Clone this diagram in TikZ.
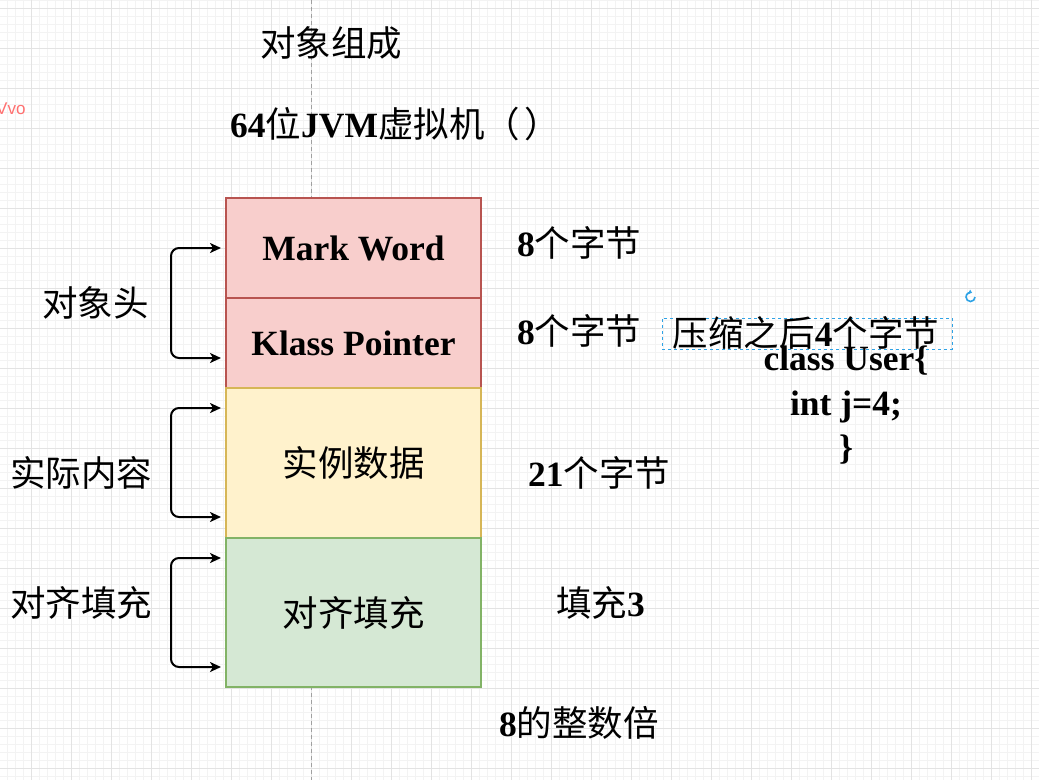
\documentclass[tikz,border=0pt]{standalone}
\usepackage{fontspec}
\setmainfont{Liberation Serif}
\newfontfamily\cjk{Noto Sans CJK SC}
\newfontfamily\uisans{Liberation Sans}
\usetikzlibrary{arrows.meta}
\definecolor{redfill}{HTML}{F8CECC}
\definecolor{redline}{HTML}{B85450}
\definecolor{yelfill}{HTML}{FFF2CC}
\definecolor{yelline}{HTML}{D6B656}
\definecolor{grnfill}{HTML}{D5E8D4}
\definecolor{grnline}{HTML}{82B366}
\definecolor{minorg}{HTML}{F3F3F3}
\definecolor{majorg}{HTML}{E3E3E3}
\definecolor{guide}{HTML}{A0A0A0}
\definecolor{selblue}{HTML}{2FA3E6}
\definecolor{pinkred}{HTML}{FF7070}
\begin{document}
\begin{tikzpicture}[x=1pt,y=-1pt,
  txt/.style={inner sep=0pt, font=\fontsize{35.5}{44}\selectfont},
  lt/.style={txt, anchor=west},
  cell/.style={draw, line width=1.5pt, minimum width=255pt, inner sep=0pt,
    font=\fontsize{35.5}{44}\selectfont},
  brk/.style={line width=2pt, rounded corners=8pt,
    {Stealth[length=11pt,width=10pt,inset=3pt]}-{Stealth[length=11pt,width=10pt,inset=3pt]}},
  minorline/.style={draw=minorg, line width=0.8pt},
  majorline/.style={draw=majorg, line width=1pt}]
\useasboundingbox (0,0) rectangle (1039,780);
\fill[white] (0,0) rectangle (1039,780);
% grid
\foreach \x in {7,15,...,1039} \draw[minorline] (\x,0) -- (\x,780);
\foreach \y in {0,8,...,780} \draw[minorline] (0,\y) -- (1039,\y);
\foreach \x in {31,71,...,1031} \draw[majorline] (\x,0) -- (\x,780);
\foreach \y in {8,48,...,768} \draw[majorline] (0,\y) -- (1039,\y);
% page guide
\draw[guide, line width=1pt, dash pattern=on 4pt off 3pt] (311,0) -- (311,780);

% small UI marks
\node[inner sep=0pt, anchor=west, text=pinkred, font=\uisans\fontsize{17}{19}\selectfont] (vvo) at (-4,109) {Vvo};
\draw[selblue, line width=1.6pt, -{Triangle[length=3pt,width=4.5pt]}] (975,297) arc[start angle=0, end angle=290, radius=4.5];

% titles
\node[txt] (title) at (331,43) {\cjk 对象组成};
\node[lt] (jvm) at (230,124) {{\bfseries 64}{\cjk 位}{\bfseries JVM}{\cjk 虚拟机（\kern4pt）}};

% boxes
\node[cell, fill=redfill, draw=redline, minimum height=100pt] (mw) at (353.5,248) {\bfseries Mark Word};
\node[cell, fill=redfill, draw=redline, minimum height=90pt] (kp) at (353.5,343) {\bfseries Klass Pointer};
\node[cell, fill=yelfill, draw=yelline, minimum height=150pt] (inst) at (353.5,463) {\cjk 实例数据};
\node[cell, fill=grnfill, draw=grnline, minimum height=149pt] (pad) at (353.5,612.5) {\cjk 对齐填充};
\draw[redline, line width=1.5pt] (kp.north west) -- (kp.north east);

% brackets
\coordinate (h1) at (221,248);
\coordinate (h2) at (221,358);
\coordinate (h3) at (221,408);
\coordinate (h4) at (221,517);
\coordinate (h5) at (221,558);
\coordinate (h6) at (221,667);
\draw[brk] (h1) -- ++(-50,0) |- (h2);
\draw[brk] (h3) -- ++(-50,0) |- (h4);
\draw[brk] (h5) -- ++(-50,0) |- (h6);

% left labels
\node[lt] (lhead) at (42,303) {\cjk 对象头};
\node[lt] (lcont) at (10,473) {\cjk 实际内容};
\node[lt] (lpad) at (10,603) {\cjk 对齐填充};

% right labels
\node[lt] (s1) at (517,243) {{\bfseries 8}{\cjk 个字节}};
\node[lt] (s2) at (517,331) {{\bfseries 8}{\cjk 个字节}};
\node[lt] (s3) at (528,473) {{\bfseries 21}{\cjk 个字节}};
\node[lt] (s4) at (556,603) {{\cjk 填充}{\bfseries 3}};
\node[lt] (s5) at (499,723) {{\bfseries 8}{\cjk 的整数倍}};

% compressed note
\node[draw=selblue, dashed, line width=0.8pt, minimum width=290pt, minimum height=31pt, inner sep=0pt] (cbox) at (807,333.5) {};
\node[txt] (comp) at (806,333) {{\cjk 压缩之后}{\bfseries 4}{\cjk 个字节}};

% class code
\node[txt, anchor=base] (c1) at (846,370) {\bfseries class User\{};
\node[txt, anchor=base] (c2) at (846,415) {\bfseries int j=4;};
\node[txt, anchor=base] (c3) at (846,459) {\bfseries \}};
\end{tikzpicture}
\end{document}
